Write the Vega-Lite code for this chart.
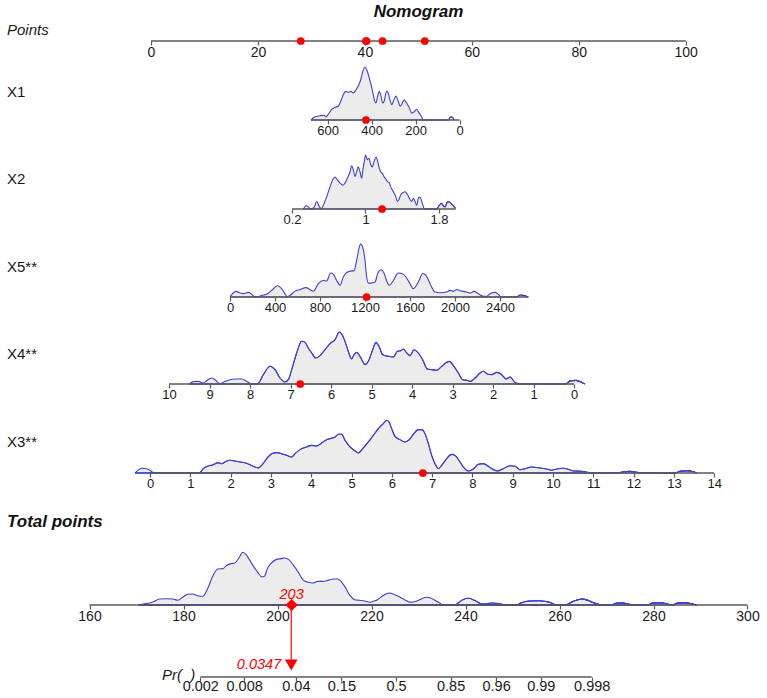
{
  "$schema": "https://vega.github.io/schema/vega-lite/v6.json",
  "padding": 0,
  "spacing": 0,
  "bounds": "flush",
  "title": {"text": "Nomogram", "anchor": "middle", "frame": "bounds", "dx": 35, "offset": -29, "baseline": "middle", "fontSize": 17, "fontWeight": "bold", "fontStyle": "italic", "font": "Liberation Sans", "color": "#111111"},
  "config": {
    "view": {"stroke": null},
    "axis": {"domain": false, "grid": false, "ticks": true, "tickSize": 4, "tickColor": "#5a5a5a", "tickWidth": 1.2, "labelFont": "Liberation Sans", "labelColor": "#1a1a1a", "labelPadding": 0.5, "labelOverlap": false, "labelFlush": false, "labelBound": false, "title": null, "labelExpr": "datum.value + ''"}
  },
  "datasets": {
    "case": [
      {"var": "X1", "value": 426, "pts": 40.3},
      {"var": "X2", "value": 1.18, "pts": 43.3},
      {"var": "X5", "value": 1214, "pts": 40.2},
      {"var": "X4", "value": 6.76, "pts": 28.0},
      {"var": "X3", "value": 6.77, "pts": 51.2}
    ],
    "result": [{"total": 203, "prob": 0.0347}],
    "x1": [
      {"v":676,"d":0,"seg":1},{"v":658,"d":0.06,"seg":1},{"v":635,"d":0.08,"seg":1},{"v":617,"d":0.09,"seg":1},{"v":608,"d":0.06,"seg":1},{"v":597,"d":0.11,"seg":1},{"v":582,"d":0.2,"seg":1},{"v":567,"d":0.24,"seg":1},{"v":552,"d":0.26,"seg":1},{"v":541,"d":0.35,"seg":1},{"v":529,"d":0.48,"seg":1},{"v":517,"d":0.54,"seg":1},{"v":506,"d":0.52,"seg":1},{"v":496,"d":0.54,"seg":1},{"v":484,"d":0.51,"seg":1},{"v":471,"d":0.57,"seg":1},{"v":461,"d":0.64,"seg":1},{"v":450,"d":0.76,"seg":1},{"v":438,"d":0.95,"seg":1},{"v":431,"d":1.0,"seg":1},{"v":420,"d":0.92,"seg":1},{"v":411,"d":0.79,"seg":1},{"v":403,"d":0.67,"seg":1},{"v":396,"d":0.54,"seg":1},{"v":388,"d":0.38,"seg":1},{"v":381,"d":0.32,"seg":1},{"v":373,"d":0.45,"seg":1},{"v":365,"d":0.54,"seg":1},{"v":358,"d":0.45,"seg":1},{"v":350,"d":0.32,"seg":1},{"v":344,"d":0.35,"seg":1},{"v":332,"d":0.54,"seg":1},{"v":325,"d":0.51,"seg":1},{"v":317,"d":0.38,"seg":1},{"v":309,"d":0.29,"seg":1},{"v":302,"d":0.35,"seg":1},{"v":290,"d":0.45,"seg":1},{"v":279,"d":0.35,"seg":1},{"v":271,"d":0.26,"seg":1},{"v":264,"d":0.29,"seg":1},{"v":253,"d":0.38,"seg":1},{"v":241,"d":0.32,"seg":1},{"v":229,"d":0.23,"seg":1},{"v":218,"d":0.13,"seg":1},{"v":208,"d":0.15,"seg":1},{"v":196,"d":0.2,"seg":1},{"v":184,"d":0.13,"seg":1},{"v":173,"d":0.06,"seg":1},{"v":166,"d":0,"seg":1},
      {"v":52,"d":0,"seg":2},{"v":41,"d":0.06,"seg":2},{"v":32,"d":0.045,"seg":2},{"v":26,"d":0,"seg":2}
    ],
    "x2": [
      {"v":0.324,"d":0,"seg":1},{"v":0.353,"d":0.06,"seg":1},{"v":0.378,"d":0.04,"seg":1},{"v":0.403,"d":0,"seg":1},{"v":0.443,"d":0.04,"seg":1},{"v":0.469,"d":0.14,"seg":1},{"v":0.498,"d":0.04,"seg":1},{"v":0.523,"d":0.01,"seg":1},{"v":0.541,"d":0.07,"seg":1},{"v":0.578,"d":0.23,"seg":1},{"v":0.614,"d":0.41,"seg":1},{"v":0.643,"d":0.54,"seg":1},{"v":0.668,"d":0.59,"seg":1},{"v":0.694,"d":0.54,"seg":1},{"v":0.723,"d":0.48,"seg":1},{"v":0.752,"d":0.44,"seg":1},{"v":0.777,"d":0.48,"seg":1},{"v":0.803,"d":0.57,"seg":1},{"v":0.832,"d":0.69,"seg":1},{"v":0.85,"d":0.8,"seg":1},{"v":0.868,"d":0.72,"seg":1},{"v":0.886,"d":0.6,"seg":1},{"v":0.904,"d":0.69,"seg":1},{"v":0.922,"d":0.78,"seg":1},{"v":0.94,"d":0.69,"seg":1},{"v":0.959,"d":0.57,"seg":1},{"v":0.969,"d":0.69,"seg":1},{"v":0.984,"d":0.85,"seg":1},{"v":1.002,"d":1.0,"seg":1},{"v":1.02,"d":0.91,"seg":1},{"v":1.038,"d":0.94,"seg":1},{"v":1.057,"d":0.82,"seg":1},{"v":1.075,"d":0.78,"seg":1},{"v":1.093,"d":0.88,"seg":1},{"v":1.115,"d":0.96,"seg":1},{"v":1.129,"d":0.91,"seg":1},{"v":1.147,"d":0.78,"seg":1},{"v":1.165,"d":0.69,"seg":1},{"v":1.183,"d":0.66,"seg":1},{"v":1.202,"d":0.6,"seg":1},{"v":1.223,"d":0.55,"seg":1},{"v":1.238,"d":0.51,"seg":1},{"v":1.26,"d":0.48,"seg":1},{"v":1.274,"d":0.41,"seg":1},{"v":1.292,"d":0.35,"seg":1},{"v":1.31,"d":0.3,"seg":1},{"v":1.329,"d":0.23,"seg":1},{"v":1.347,"d":0.14,"seg":1},{"v":1.365,"d":0.18,"seg":1},{"v":1.383,"d":0.26,"seg":1},{"v":1.405,"d":0.3,"seg":1},{"v":1.43,"d":0.32,"seg":1},{"v":1.448,"d":0.29,"seg":1},{"v":1.466,"d":0.24,"seg":1},{"v":1.485,"d":0.17,"seg":1},{"v":1.503,"d":0.14,"seg":1},{"v":1.521,"d":0.2,"seg":1},{"v":1.539,"d":0.14,"seg":1},{"v":1.557,"d":0.07,"seg":1},{"v":1.575,"d":0.2,"seg":1},{"v":1.593,"d":0.22,"seg":1},{"v":1.612,"d":0.14,"seg":1},{"v":1.63,"d":0.04,"seg":1},{"v":1.641,"d":0,"seg":1},
      {"v":1.775,"d":0,"seg":2},{"v":1.804,"d":0.07,"seg":2},{"v":1.829,"d":0.105,"seg":2},{"v":1.847,"d":0.06,"seg":2},{"v":1.866,"d":0.04,"seg":2},{"v":1.895,"d":0.136,"seg":2},{"v":1.92,"d":0.123,"seg":2},{"v":1.949,"d":0.07,"seg":2},{"v":1.982,"d":0.01,"seg":2}
    ],
    "x5": [
      {"v":0,"d":0,"seg":1},{"v":15,"d":0.044,"seg":1},{"v":53,"d":0.106,"seg":1},{"v":89,"d":0.075,"seg":1},{"v":118,"d":0.0625,"seg":1},{"v":163,"d":0.0875,"seg":1},{"v":193,"d":0.05,"seg":1},{"v":222,"d":0,"seg":1},{"v":243,"d":0,"seg":1},{"v":282,"d":0.03,"seg":1},{"v":326,"d":0.05,"seg":1},{"v":370,"d":0.125,"seg":1},{"v":421,"d":0.21,"seg":1},{"v":459,"d":0.156,"seg":1},{"v":510,"d":0.01,"seg":1},{"v":533,"d":0.03,"seg":1},{"v":578,"d":0.11,"seg":1},{"v":622,"d":0.14,"seg":1},{"v":676,"d":0.175,"seg":1},{"v":711,"d":0.14,"seg":1},{"v":741,"d":0.11,"seg":1},{"v":785,"d":0.25,"seg":1},{"v":830,"d":0.31,"seg":1},{"v":859,"d":0.3,"seg":1},{"v":895,"d":0.45,"seg":1},{"v":919,"d":0.425,"seg":1},{"v":948,"d":0.31,"seg":1},{"v":978,"d":0.22,"seg":1},{"v":1007,"d":0.375,"seg":1},{"v":1037,"d":0.46,"seg":1},{"v":1082,"d":0.49,"seg":1},{"v":1102,"d":0.49,"seg":1},{"v":1126,"d":0.69,"seg":1},{"v":1150,"d":0.94,"seg":1},{"v":1162,"d":1.0,"seg":1},{"v":1179,"d":0.94,"seg":1},{"v":1200,"d":0.69,"seg":1},{"v":1215,"d":0.375,"seg":1},{"v":1230,"d":0.26,"seg":1},{"v":1259,"d":0.26,"seg":1},{"v":1289,"d":0.28,"seg":1},{"v":1313,"d":0.44,"seg":1},{"v":1342,"d":0.51,"seg":1},{"v":1369,"d":0.45,"seg":1},{"v":1393,"d":0.3,"seg":1},{"v":1416,"d":0.22,"seg":1},{"v":1452,"d":0.31,"seg":1},{"v":1496,"d":0.45,"seg":1},{"v":1526,"d":0.44,"seg":1},{"v":1564,"d":0.375,"seg":1},{"v":1600,"d":0.25,"seg":1},{"v":1630,"d":0.156,"seg":1},{"v":1674,"d":0.28,"seg":1},{"v":1713,"d":0.44,"seg":1},{"v":1742,"d":0.406,"seg":1},{"v":1778,"d":0.25,"seg":1},{"v":1822,"d":0.094,"seg":1},{"v":1867,"d":0.081,"seg":1},{"v":1926,"d":0.094,"seg":1},{"v":1956,"d":0.125,"seg":1},{"v":1985,"d":0.106,"seg":1},{"v":2015,"d":0.14,"seg":1},{"v":2059,"d":0.11,"seg":1},{"v":2104,"d":0.094,"seg":1},{"v":2139,"d":0.075,"seg":1},{"v":2169,"d":0.106,"seg":1},{"v":2207,"d":0.0625,"seg":1},{"v":2252,"d":0.0125,"seg":1},{"v":2282,"d":0.0125,"seg":1},{"v":2311,"d":0.0625,"seg":1},{"v":2356,"d":0.0875,"seg":1},{"v":2394,"d":0.03,"seg":1},{"v":2409,"d":0,"seg":1},
      {"v":2548,"d":0,"seg":2},{"v":2578,"d":0.0375,"seg":2},{"v":2607,"d":0.031,"seg":2},{"v":2652,"d":0,"seg":2}
    ],
    "x4": [
      {"v":9.498,"d":0,"seg":1},{"v":9.399,"d":0.045,"seg":1},{"v":9.276,"d":0.051,"seg":1},{"v":9.152,"d":0.019,"seg":1},{"v":9.07,"d":0.064,"seg":1},{"v":8.946,"d":0.115,"seg":1},{"v":8.864,"d":0.083,"seg":1},{"v":8.741,"d":0.006,"seg":1},{"v":8.658,"d":0.032,"seg":1},{"v":8.535,"d":0.071,"seg":1},{"v":8.37,"d":0.096,"seg":1},{"v":8.206,"d":0.096,"seg":1},{"v":8.082,"d":0.051,"seg":1},{"v":7.959,"d":0,"seg":1},
      {"v":7.819,"d":0,"seg":2},{"v":7.671,"d":0.179,"seg":2},{"v":7.506,"d":0.34,"seg":2},{"v":7.383,"d":0.276,"seg":2},{"v":7.259,"d":0.115,"seg":2},{"v":7.136,"d":0.038,"seg":2},{"v":7.054,"d":0.083,"seg":2},{"v":6.971,"d":0.276,"seg":2},{"v":6.848,"d":0.596,"seg":2},{"v":6.724,"d":0.821,"seg":2},{"v":6.642,"d":0.801,"seg":2},{"v":6.56,"d":0.692,"seg":2},{"v":6.477,"d":0.596,"seg":2},{"v":6.379,"d":0.5,"seg":2},{"v":6.272,"d":0.545,"seg":2},{"v":6.148,"d":0.66,"seg":2},{"v":6.025,"d":0.776,"seg":2},{"v":5.901,"d":0.853,"seg":2},{"v":5.794,"d":1.0,"seg":2},{"v":5.712,"d":0.929,"seg":2},{"v":5.613,"d":0.724,"seg":2},{"v":5.531,"d":0.532,"seg":2},{"v":5.49,"d":0.481,"seg":2},{"v":5.432,"d":0.564,"seg":2},{"v":5.366,"d":0.609,"seg":2},{"v":5.284,"d":0.532,"seg":2},{"v":5.16,"d":0.372,"seg":2},{"v":5.078,"d":0.436,"seg":2},{"v":4.971,"d":0.66,"seg":2},{"v":4.889,"d":0.801,"seg":2},{"v":4.807,"d":0.71,"seg":2},{"v":4.724,"d":0.564,"seg":2},{"v":4.584,"d":0.532,"seg":2},{"v":4.461,"d":0.519,"seg":2},{"v":4.362,"d":0.628,"seg":2},{"v":4.28,"d":0.641,"seg":2},{"v":4.214,"d":0.673,"seg":2},{"v":4.148,"d":0.615,"seg":2},{"v":4.049,"d":0.545,"seg":2},{"v":3.951,"d":0.66,"seg":2},{"v":3.844,"d":0.596,"seg":2},{"v":3.737,"d":0.468,"seg":2},{"v":3.622,"d":0.288,"seg":2},{"v":3.514,"d":0.276,"seg":2},{"v":3.391,"d":0.263,"seg":2},{"v":3.267,"d":0.34,"seg":2},{"v":3.144,"d":0.417,"seg":2},{"v":3.078,"d":0.436,"seg":2},{"v":2.979,"d":0.353,"seg":2},{"v":2.856,"d":0.212,"seg":2},{"v":2.749,"d":0.083,"seg":2},{"v":2.65,"d":0.071,"seg":2},{"v":2.551,"d":0.051,"seg":2},{"v":2.444,"d":0.115,"seg":2},{"v":2.321,"d":0.212,"seg":2},{"v":2.239,"d":0.244,"seg":2},{"v":2.14,"d":0.192,"seg":2},{"v":2.033,"d":0.179,"seg":2},{"v":1.909,"d":0.224,"seg":2},{"v":1.786,"d":0.179,"seg":2},{"v":1.679,"d":0.096,"seg":2},{"v":1.58,"d":0.135,"seg":2},{"v":1.457,"d":0.03,"seg":2},{"v":1.333,"d":0,"seg":2},
      {"v":0.198,"d":0,"seg":3},{"v":0.099,"d":0.06,"seg":3},{"v":-0.049,"d":0.07,"seg":3},{"v":-0.198,"d":0.03,"seg":3},{"v":-0.27,"d":0,"seg":3}
    ],
    "x3": [
      {"v":-0.37,"d":0,"seg":0},{"v":-0.2,"d":0.09,"seg":0},{"v":-0.05,"d":0.07,"seg":0},{"v":0.12,"d":0,"seg":0},
      {"v":1.224,"d":0,"seg":1},{"v":1.323,"d":0.082,"seg":1},{"v":1.447,"d":0.133,"seg":1},{"v":1.572,"d":0.158,"seg":1},{"v":1.696,"d":0.196,"seg":1},{"v":1.778,"d":0.177,"seg":1},{"v":1.861,"d":0.209,"seg":1},{"v":1.985,"d":0.241,"seg":1},{"v":2.109,"d":0.228,"seg":1},{"v":2.233,"d":0.209,"seg":1},{"v":2.357,"d":0.196,"seg":1},{"v":2.481,"d":0.158,"seg":1},{"v":2.605,"d":0.114,"seg":1},{"v":2.688,"d":0.095,"seg":1},{"v":2.771,"d":0.146,"seg":1},{"v":2.895,"d":0.272,"seg":1},{"v":3.019,"d":0.367,"seg":1},{"v":3.143,"d":0.386,"seg":1},{"v":3.267,"d":0.367,"seg":1},{"v":3.391,"d":0.335,"seg":1},{"v":3.515,"d":0.304,"seg":1},{"v":3.598,"d":0.367,"seg":1},{"v":3.722,"d":0.443,"seg":1},{"v":3.888,"d":0.494,"seg":1},{"v":4.012,"d":0.525,"seg":1},{"v":4.136,"d":0.513,"seg":1},{"v":4.26,"d":0.57,"seg":1},{"v":4.384,"d":0.633,"seg":1},{"v":4.467,"d":0.652,"seg":1},{"v":4.591,"d":0.684,"seg":1},{"v":4.673,"d":0.734,"seg":1},{"v":4.756,"d":0.734,"seg":1},{"v":4.839,"d":0.62,"seg":1},{"v":4.963,"d":0.494,"seg":1},{"v":5.087,"d":0.418,"seg":1},{"v":5.169,"d":0.38,"seg":1},{"v":5.277,"d":0.462,"seg":1},{"v":5.418,"d":0.589,"seg":1},{"v":5.542,"d":0.715,"seg":1},{"v":5.666,"d":0.842,"seg":1},{"v":5.79,"d":0.937,"seg":1},{"v":5.873,"d":1.0,"seg":1},{"v":5.931,"d":0.968,"seg":1},{"v":5.997,"d":0.842,"seg":1},{"v":6.079,"d":0.696,"seg":1},{"v":6.203,"d":0.633,"seg":1},{"v":6.328,"d":0.589,"seg":1},{"v":6.435,"d":0.633,"seg":1},{"v":6.534,"d":0.734,"seg":1},{"v":6.658,"d":0.823,"seg":1},{"v":6.741,"d":0.823,"seg":1},{"v":6.824,"d":0.747,"seg":1},{"v":6.907,"d":0.557,"seg":1},{"v":6.989,"d":0.335,"seg":1},{"v":7.072,"d":0.177,"seg":1},{"v":7.155,"d":0.082,"seg":1},{"v":7.237,"d":0.146,"seg":1},{"v":7.361,"d":0.272,"seg":1},{"v":7.485,"d":0.354,"seg":1},{"v":7.568,"d":0.335,"seg":1},{"v":7.676,"d":0.228,"seg":1},{"v":7.775,"d":0.114,"seg":1},{"v":7.899,"d":0.038,"seg":1},{"v":8.023,"d":0.076,"seg":1},{"v":8.147,"d":0.165,"seg":1},{"v":8.271,"d":0.177,"seg":1},{"v":8.395,"d":0.127,"seg":1},{"v":8.478,"d":0.082,"seg":1},{"v":8.619,"d":0.038,"seg":1},{"v":8.768,"d":0.082,"seg":1},{"v":8.933,"d":0.139,"seg":1},{"v":9.057,"d":0.127,"seg":1},{"v":9.181,"d":0.063,"seg":1},{"v":9.305,"d":0.082,"seg":1},{"v":9.471,"d":0.114,"seg":1},{"v":9.636,"d":0.101,"seg":1},{"v":9.843,"d":0.076,"seg":1},{"v":9.967,"d":0.051,"seg":1},{"v":10.091,"d":0.076,"seg":1},{"v":10.256,"d":0.089,"seg":1},{"v":10.38,"d":0.07,"seg":1},{"v":10.505,"d":0.038,"seg":1},{"v":10.711,"d":0.032,"seg":1},{"v":10.835,"d":0.019,"seg":1},{"v":10.96,"d":0,"seg":1},
      {"v":11.621,"d":0,"seg":2},{"v":11.745,"d":0.025,"seg":2},{"v":11.911,"d":0.032,"seg":2},{"v":12.076,"d":0.013,"seg":2},{"v":12.2,"d":0,"seg":2},
      {"v":13.027,"d":0,"seg":3},{"v":13.151,"d":0.032,"seg":3},{"v":13.317,"d":0.044,"seg":3},{"v":13.482,"d":0.025,"seg":3},{"v":13.565,"d":0,"seg":3}
    ],
    "total": [
      {"v":170.5,"d":0,"seg":1},{"v":171.7,"d":0.025,"seg":1},{"v":172.8,"d":0.038,"seg":1},{"v":173.8,"d":0.07,"seg":1},{"v":174.9,"d":0.114,"seg":1},{"v":176.3,"d":0.12,"seg":1},{"v":177.7,"d":0.114,"seg":1},{"v":178.8,"d":0.089,"seg":1},{"v":179.9,"d":0.152,"seg":1},{"v":180.9,"d":0.203,"seg":1},{"v":182.0,"d":0.209,"seg":1},{"v":183.0,"d":0.177,"seg":1},{"v":184.1,"d":0.165,"seg":1},{"v":185.2,"d":0.323,"seg":1},{"v":186.2,"d":0.544,"seg":1},{"v":187.3,"d":0.684,"seg":1},{"v":188.4,"d":0.69,"seg":1},{"v":189.1,"d":0.747,"seg":1},{"v":190.1,"d":0.785,"seg":1},{"v":190.9,"d":0.797,"seg":1},{"v":191.8,"d":0.892,"seg":1},{"v":192.6,"d":1.0,"seg":1},{"v":193.3,"d":0.956,"seg":1},{"v":194.0,"d":0.861,"seg":1},{"v":194.8,"d":0.747,"seg":1},{"v":195.8,"d":0.62,"seg":1},{"v":196.7,"d":0.532,"seg":1},{"v":197.2,"d":0.544,"seg":1},{"v":197.9,"d":0.703,"seg":1},{"v":198.7,"d":0.797,"seg":1},{"v":199.7,"d":0.861,"seg":1},{"v":200.8,"d":0.88,"seg":1},{"v":201.5,"d":0.892,"seg":1},{"v":202.4,"d":0.861,"seg":1},{"v":203.3,"d":0.766,"seg":1},{"v":204.3,"d":0.639,"seg":1},{"v":205.4,"d":0.481,"seg":1},{"v":206.5,"d":0.43,"seg":1},{"v":207.5,"d":0.418,"seg":1},{"v":208.6,"d":0.449,"seg":1},{"v":209.6,"d":0.449,"seg":1},{"v":210.7,"d":0.468,"seg":1},{"v":211.8,"d":0.494,"seg":1},{"v":212.8,"d":0.494,"seg":1},{"v":213.5,"d":0.449,"seg":1},{"v":214.3,"d":0.354,"seg":1},{"v":215.3,"d":0.196,"seg":1},{"v":216.4,"d":0.101,"seg":1},{"v":217.4,"d":0.089,"seg":1},{"v":218.5,"d":0.076,"seg":1},{"v":219.6,"d":0.051,"seg":1},{"v":220.3,"d":0.07,"seg":1},{"v":221.3,"d":0.101,"seg":1},{"v":222.4,"d":0.177,"seg":1},{"v":223.8,"d":0.228,"seg":1},{"v":224.9,"d":0.196,"seg":1},{"v":226.0,"d":0.152,"seg":1},{"v":227.0,"d":0.101,"seg":1},{"v":228.4,"d":0.051,"seg":1},{"v":229.5,"d":0.07,"seg":1},{"v":230.6,"d":0.114,"seg":1},{"v":231.6,"d":0.146,"seg":1},{"v":232.7,"d":0.127,"seg":1},{"v":233.8,"d":0.07,"seg":1},{"v":234.5,"d":0.038,"seg":1},{"v":235.2,"d":0,"seg":1},
      {"v":237.7,"d":0,"seg":2},{"v":239.4,"d":0.101,"seg":2},{"v":240.7,"d":0.127,"seg":2},{"v":241.9,"d":0.089,"seg":2},{"v":243.3,"d":0.025,"seg":2},{"v":244.4,"d":0.025,"seg":2},{"v":245.8,"d":0.038,"seg":2},{"v":247.2,"d":0.025,"seg":2},{"v":248.7,"d":0,"seg":2},
      {"v":250.8,"d":0,"seg":3},{"v":251.8,"d":0.038,"seg":3},{"v":253.6,"d":0.076,"seg":3},{"v":255.7,"d":0.082,"seg":3},{"v":257.9,"d":0.051,"seg":3},{"v":259.3,"d":0,"seg":3},
      {"v":261.4,"d":0,"seg":4},{"v":262.5,"d":0.051,"seg":4},{"v":263.9,"d":0.101,"seg":4},{"v":265.0,"d":0.114,"seg":4},{"v":266.0,"d":0.089,"seg":4},{"v":267.4,"d":0.038,"seg":4},{"v":268.9,"d":0,"seg":4},
      {"v":271.0,"d":0,"seg":5},{"v":272.1,"d":0.032,"seg":5},{"v":273.5,"d":0.038,"seg":5},{"v":274.5,"d":0.019,"seg":5},{"v":275.6,"d":0,"seg":5},
      {"v":278.8,"d":0,"seg":6},{"v":279.9,"d":0.038,"seg":6},{"v":281.3,"d":0.044,"seg":6},{"v":282.7,"d":0.025,"seg":6},{"v":283.8,"d":0,"seg":6},
      {"v":284.1,"d":0,"seg":7},{"v":285.2,"d":0.038,"seg":7},{"v":286.6,"d":0.044,"seg":7},{"v":288.0,"d":0.025,"seg":7},{"v":289.1,"d":0,"seg":7}
    ]
  },
  "vconcat": [
    {
      "width": 767, "height": 41,
      "title": {"text": "Points", "anchor": "start", "frame": "group", "dx": 7, "offset": -45, "baseline": "middle", "fontSize": 15, "fontWeight": "normal", "fontStyle": "italic", "font": "Liberation Sans", "color": "#1a1a1a"},
      "layer": [
        {
          "data": {"values": [{"lo": 0, "hi": 100}]},
          "mark": {"type": "rule", "color": "#5a5a5a", "strokeWidth": 1.3},
          "encoding": {
            "x": {"field": "lo", "type": "quantitative", "scale": {"domain": [-28.24, 115.2], "nice": false, "zero": false}, "axis": {"values": [0, 20, 40, 60, 80, 100], "labelFontSize": 14}},
            "x2": {"field": "hi"},
            "y": {"datum": 0, "type": "quantitative", "scale": {"domain": [0, 1]}, "axis": null}
          }
        },
        {
          "data": {"name": "case"},
          "mark": {"type": "point", "filled": true, "color": "#ff0000", "opacity": 1, "size": 60},
          "encoding": {"x": {"field": "pts", "type": "quantitative"}, "y": {"datum": 0}}
        }
      ]
    },
    {
      "width": 767, "height": 79,
      "title": {"text": "X1", "anchor": "start", "frame": "group", "dx": 7, "offset": -66, "baseline": "middle", "fontSize": 15, "fontWeight": "normal", "font": "Liberation Sans", "color": "#1a1a1a"},
      "layer": [
        {
          "data": {"name": "x1"},
          "mark": {"type": "area", "color": "#ececec", "opacity": 1, "interpolate": "monotone", "line": {"color": "#3f3fd4", "strokeWidth": 1.1}},
          "encoding": {
            "x": {"field": "v", "type": "quantitative", "scale": {"domain": [-1396.8, 2089.5], "reverse": true, "nice": false, "zero": false}, "axis": {"values": [0, 200, 400, 600], "labelFontSize": 13}},
            "y": {"field": "d", "type": "quantitative", "scale": {"domain": [0, 1.4906], "nice": false}, "axis": null},
            "detail": {"field": "seg"}
          }
        },
        {
          "data": {"values": [{"lo": 0, "hi": 676}]},
          "mark": {"type": "rule", "color": "#5a5a5a", "strokeWidth": 1.3},
          "encoding": {"x": {"field": "lo", "type": "quantitative"}, "x2": {"field": "hi"}, "y": {"datum": 0}}
        },
        {
          "data": {"name": "case"},
          "transform": [{"filter": "datum.var === 'X1'"}],
          "mark": {"type": "point", "filled": true, "color": "#ff0000", "opacity": 1, "size": 60},
          "encoding": {"x": {"field": "value", "type": "quantitative"}, "y": {"datum": 0}}
        }
      ]
    },
    {
      "width": 767, "height": 89,
      "title": {"text": "X2", "anchor": "start", "frame": "group", "dx": 7, "offset": -74, "baseline": "middle", "fontSize": 15, "fontWeight": "normal", "font": "Liberation Sans", "color": "#1a1a1a"},
      "layer": [
        {
          "data": {"name": "x2"},
          "mark": {"type": "area", "color": "#ececec", "opacity": 1, "interpolate": "monotone", "line": {"color": "#3f3fd4", "strokeWidth": 1.1}},
          "encoding": {
            "x": {"field": "v", "type": "quantitative", "scale": {"domain": [-2.978, 5.37], "nice": false, "zero": false}, "axis": {"values": [0.2, 1, 1.8], "labelFontSize": 13}},
            "y": {"field": "d", "type": "quantitative", "scale": {"domain": [0, 1.648], "nice": false}, "axis": null},
            "detail": {"field": "seg"}
          }
        },
        {
          "data": {"values": [{"lo": 0.2, "hi": 1.98}]},
          "mark": {"type": "rule", "color": "#5a5a5a", "strokeWidth": 1.3},
          "encoding": {"x": {"field": "lo", "type": "quantitative"}, "x2": {"field": "hi"}, "y": {"datum": 0}}
        },
        {
          "data": {"name": "case"},
          "transform": [{"filter": "datum.var === 'X2'"}],
          "mark": {"type": "point", "filled": true, "color": "#ff0000", "opacity": 1, "size": 60},
          "encoding": {"x": {"field": "value", "type": "quantitative"}, "y": {"datum": 0}}
        }
      ]
    },
    {
      "width": 767, "height": 88,
      "title": {"text": "X5**", "anchor": "start", "frame": "group", "dx": 7, "offset": -73, "baseline": "middle", "fontSize": 15, "fontWeight": "normal", "font": "Liberation Sans", "color": "#1a1a1a"},
      "layer": [
        {
          "data": {"name": "x5"},
          "mark": {"type": "area", "color": "#ececec", "opacity": 1, "interpolate": "monotone", "line": {"color": "#3f3fd4", "strokeWidth": 1.1}},
          "encoding": {
            "x": {"field": "v", "type": "quantitative", "scale": {"domain": [-2044.4, 4773.3], "nice": false, "zero": false}, "axis": {"values": [0, 400, 800, 1200, 1600, 2000, 2400], "labelFontSize": 13}},
            "y": {"field": "d", "type": "quantitative", "scale": {"domain": [0, 1.651], "nice": false}, "axis": null},
            "detail": {"field": "seg"}
          }
        },
        {
          "data": {"values": [{"lo": 0, "hi": 2650}]},
          "mark": {"type": "rule", "color": "#5a5a5a", "strokeWidth": 1.3},
          "encoding": {"x": {"field": "lo", "type": "quantitative"}, "x2": {"field": "hi"}, "y": {"datum": 0}}
        },
        {
          "data": {"name": "case"},
          "transform": [{"filter": "datum.var === 'X5'"}],
          "mark": {"type": "point", "filled": true, "color": "#ff0000", "opacity": 1, "size": 60},
          "encoding": {"x": {"field": "value", "type": "quantitative"}, "y": {"datum": 0}}
        }
      ]
    },
    {
      "width": 767, "height": 87,
      "title": {"text": "X4**", "anchor": "start", "frame": "group", "dx": 7, "offset": -72, "baseline": "middle", "fontSize": 15, "fontWeight": "normal", "font": "Liberation Sans", "color": "#1a1a1a"},
      "layer": [
        {
          "data": {"name": "x4"},
          "mark": {"type": "area", "color": "#ececec", "opacity": 1, "interpolate": "monotone", "line": {"color": "#3f3fd4", "strokeWidth": 1.1}},
          "encoding": {
            "x": {"field": "v", "type": "quantitative", "scale": {"domain": [-4.765, 14.173], "reverse": true, "nice": false, "zero": false}, "axis": {"values": [0, 1, 2, 3, 4, 5, 6, 7, 8, 9, 10], "labelFontSize": 13}},
            "y": {"field": "d", "type": "quantitative", "scale": {"domain": [0, 1.673], "nice": false}, "axis": null},
            "detail": {"field": "seg"}
          }
        },
        {
          "data": {"values": [{"lo": 0, "hi": 10}]},
          "mark": {"type": "rule", "color": "#5a5a5a", "strokeWidth": 1.3},
          "encoding": {"x": {"field": "lo", "type": "quantitative"}, "x2": {"field": "hi"}, "y": {"datum": 0}}
        },
        {
          "data": {"name": "case"},
          "transform": [{"filter": "datum.var === 'X4'"}],
          "mark": {"type": "point", "filled": true, "color": "#ff0000", "opacity": 1, "size": 60},
          "encoding": {"x": {"field": "value", "type": "quantitative"}, "y": {"datum": 0}}
        }
      ]
    },
    {
      "width": 767, "height": 89,
      "title": {"text": "X3**", "anchor": "start", "frame": "group", "dx": 7, "offset": -73, "baseline": "middle", "fontSize": 15, "fontWeight": "normal", "font": "Liberation Sans", "color": "#1a1a1a"},
      "layer": [
        {
          "data": {"name": "x3"},
          "mark": {"type": "area", "color": "#ececec", "opacity": 1, "interpolate": "monotone", "line": {"color": "#3f3fd4", "strokeWidth": 1.1}},
          "encoding": {
            "x": {"field": "v", "type": "quantitative", "scale": {"domain": [-3.722, 15.31], "nice": false, "zero": false}, "axis": {"values": [0, 1, 2, 3, 4, 5, 6, 7, 8, 9, 10, 11, 12, 13, 14], "labelFontSize": 13}},
            "y": {"field": "d", "type": "quantitative", "scale": {"domain": [0, 1.689], "nice": false}, "axis": null},
            "detail": {"field": "seg"}
          }
        },
        {
          "data": {"values": [{"lo": 0, "hi": 14}]},
          "mark": {"type": "rule", "color": "#5a5a5a", "strokeWidth": 1.3},
          "encoding": {"x": {"field": "lo", "type": "quantitative"}, "x2": {"field": "hi"}, "y": {"datum": 0}}
        },
        {
          "data": {"name": "case"},
          "transform": [{"filter": "datum.var === 'X3'"}],
          "mark": {"type": "point", "filled": true, "color": "#ff0000", "opacity": 1, "size": 60},
          "encoding": {"x": {"field": "value", "type": "quantitative"}, "y": {"datum": 0}}
        }
      ]
    },
    {
      "width": 767, "height": 132,
      "title": {"text": "Total points", "anchor": "start", "frame": "group", "dx": 7, "offset": -66, "baseline": "middle", "fontSize": 17, "fontWeight": "bold", "fontStyle": "italic", "font": "Liberation Sans", "color": "#111111"},
      "layer": [
        {
          "data": {"name": "total"},
          "mark": {"type": "area", "color": "#ececec", "opacity": 1, "interpolate": "monotone", "line": {"color": "#3f3fd4", "strokeWidth": 1.1}},
          "encoding": {
            "x": {"field": "v", "type": "quantitative", "scale": {"domain": [140.957, 304.149], "nice": false, "zero": false}, "axis": {"values": [160, 180, 200, 220, 240, 260, 280, 300], "labelFontSize": 14}},
            "y": {"field": "d", "type": "quantitative", "scale": {"domain": [0, 2.505], "nice": false}, "axis": null},
            "detail": {"field": "seg"}
          }
        },
        {
          "data": {"values": [{"lo": 160, "hi": 300}]},
          "mark": {"type": "rule", "color": "#5a5a5a", "strokeWidth": 1.3},
          "encoding": {"x": {"field": "lo", "type": "quantitative"}, "x2": {"field": "hi"}, "y": {"datum": 0}}
        },
        {
          "data": {"name": "result"},
          "mark": {"type": "point", "shape": "diamond", "filled": true, "color": "#ff0000", "opacity": 1, "size": 150},
          "encoding": {"x": {"field": "total", "type": "quantitative"}, "y": {"datum": 0}}
        },
        {
          "data": {"name": "result"},
          "mark": {"type": "text", "color": "#ff0000", "fontStyle": "italic", "fontSize": 14.5, "font": "Liberation Sans", "baseline": "middle", "dy": -10},
          "encoding": {"x": {"field": "total", "type": "quantitative"}, "y": {"datum": 0}, "text": {"field": "total", "type": "nominal"}}
        }
      ]
    },
    {
      "width": 767, "height": 72,
      "title": {"text": "Pr(\u00a0\u00a0)", "anchor": "start", "frame": "group", "dx": 162, "offset": -86, "baseline": "middle", "fontSize": 15, "fontWeight": "normal", "fontStyle": "italic", "font": "Liberation Sans", "color": "#1a1a1a"},
      "layer": [
        {
          "data": {"values": [{"lo": 0.002, "hi": 0.998}]},
          "transform": [
            {"calculate": "log(datum.lo / (1 - datum.lo))", "as": "loLogit"},
            {"calculate": "log(datum.hi / (1 - datum.hi))", "as": "hiLogit"}
          ],
          "mark": {"type": "rule", "color": "#5a5a5a", "strokeWidth": 1.3},
          "encoding": {
            "x": {"field": "loLogit", "type": "quantitative", "scale": {"domain": [-12.571, 11.778], "nice": false, "zero": false},
                  "axis": {"values": [-6.212606, -4.820282, -3.178054, -1.734601, 0, 1.734601, 3.178054, 4.59512, 6.212606], "labelExpr": "format(1 / (1 + exp(-datum.value)), '.3~g')", "labelFontSize": 14.5, "labelPadding": -2}},
            "x2": {"field": "hiLogit"},
            "y": {"datum": 0, "type": "quantitative", "scale": {"domain": [0, 1]}, "axis": null}
          }
        },
        {
          "data": {"name": "result"},
          "transform": [{"calculate": "log(datum.prob / (1 - datum.prob))", "as": "logit"}],
          "mark": {"type": "rule", "color": "#ff0000", "strokeWidth": 1.2},
          "encoding": {"x": {"field": "logit", "type": "quantitative"}, "y": {"datum": 1}, "y2": {"datum": 0.2}}
        },
        {
          "data": {"name": "result"},
          "transform": [{"calculate": "log(datum.prob / (1 - datum.prob))", "as": "logit"}],
          "mark": {"type": "point", "shape": "triangle-down", "filled": true, "color": "#ff0000", "opacity": 1, "size": 160},
          "encoding": {"x": {"field": "logit", "type": "quantitative"}, "y": {"datum": 0.167}}
        },
        {
          "data": {"name": "result"},
          "transform": [{"calculate": "log(datum.prob / (1 - datum.prob))", "as": "logit"}],
          "mark": {"type": "text", "color": "#ff0000", "fontStyle": "italic", "fontSize": 14.5, "font": "Liberation Sans", "align": "right", "baseline": "middle", "dx": -10},
          "encoding": {"x": {"field": "logit", "type": "quantitative"}, "y": {"datum": 0.167}, "text": {"field": "prob", "type": "nominal"}}
        }
      ]
    }
  ]
}
